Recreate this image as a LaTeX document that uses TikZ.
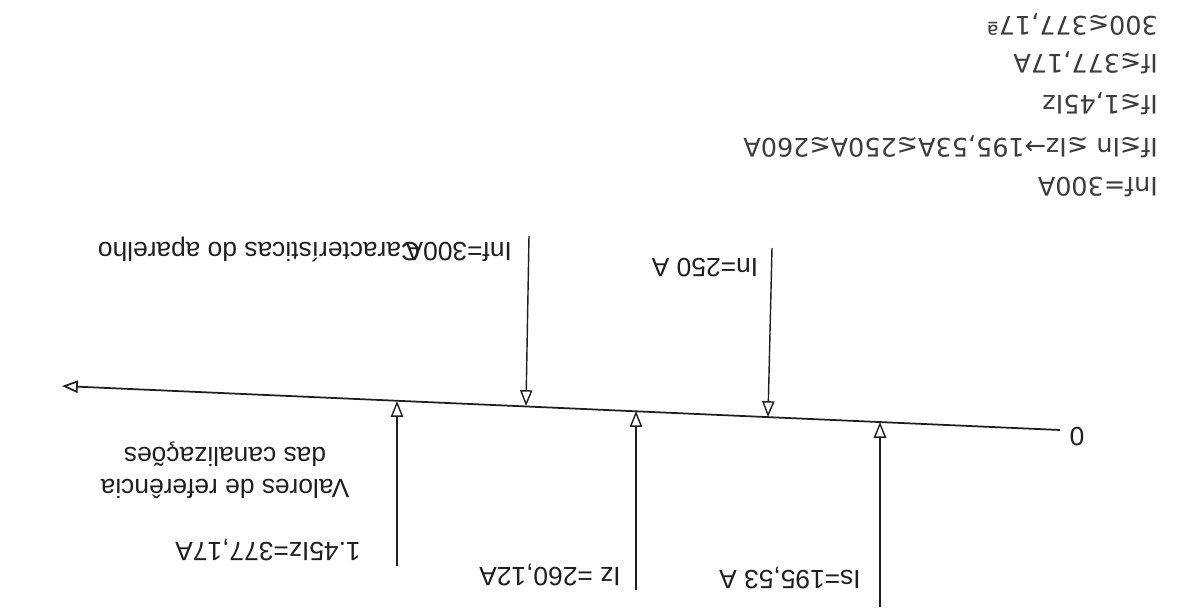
\documentclass[tikz,border=0pt]{standalone}
\usepackage{fontspec}
\setmainfont{Liberation Sans}
\newfontfamily\ftnotefont{DejaVu Sans}
\usetikzlibrary{arrows.meta,calc}
\definecolor{ftink} {HTML}{1E1E1E}
\definecolor{ftgray}{HTML}{3C3C3C}
\tikzset{
  ftedge/.style={draw=ftink, line width=0.8pt, -{Triangle[open,length=9pt,width=7pt]}},
  ftaxis/.style={ftedge, line width=1pt},
  ftlabel/.style={font=\fontsize{15}{18}\selectfont, text=ftink, rotate=180, inner sep=1pt},
  ftnote/.style={font=\ftnotefont\fontsize{14.5}{17}\selectfont, text=ftgray, rotate=180,
                 inner sep=1pt, anchor=west},
}

\begin{document}
\begin{tikzpicture}[x=0.02cm, y=-0.02cm]
  \useasboundingbox (0,0) rectangle (1178,608);
  % axis, read from the 0 towards the left
  \coordinate (ax0)   at (1060,430);
  \coordinate (axend) at (62,386);
  \node[ftlabel] (zero) at (1077,437) {0};
  \draw[ftaxis] (ax0) -- (axend);
  % reference values of the wiring (from below)
  \coordinate (isfoot)   at (880,607); \coordinate (istip)   at (880,422);
  \coordinate (izfoot)   at (636,590); \coordinate (iztip)   at (636,411);
  \coordinate (izmxfoot) at (397,566); \coordinate (izmxtip) at (397,401);
  \draw[ftedge] (isfoot) -- (istip);
  \draw[ftedge] (izfoot) -- (iztip);
  \draw[ftedge] (izmxfoot) -- (izmxtip);
  \node[ftlabel] (is)    at (790,578) {Is=195,53 A};
  \node[ftlabel] (iz)    at (550,575) {Iz =260,12A};
  \node[ftlabel] (izmx)  at (268,550) {1.45Iz=377,17A};
  \node[ftlabel, align=center] (valref) at (225,470) {Valores de referência\\das canalizações};
  % device values (from above)
  \coordinate (intop)  at (772,248); \coordinate (intip)  at (768,417);
  \coordinate (inftop) at (529,236); \coordinate (inftip) at (526,406);
  \draw[ftedge] (intop) -- (intip);
  \draw[ftedge] (inftop) -- (inftip);
  \node[ftlabel] (inom) at (705,268) {In=250 A};
  \node[ftlabel, anchor=west] (carac) at (514,249) {Inf=300A\kern-0.55em Características do aparelho};
  % notes, top right
  \node[ftnote] (n1) at (1160,187) {Inf=300A};
  \node[ftnote] (n2) at (1160,147) {If≲In ≲Iz→195,53A≲250A≲260A};
  \node[ftnote] (n3) at (1160,104) {If≲1,45Iz};
  \node[ftnote] (n4) at (1160,63)  {If≲377,17A};
  \node[ftnote] (n5) at (1160,24)  {300≲377,17ª};
\end{tikzpicture}
\end{document}
